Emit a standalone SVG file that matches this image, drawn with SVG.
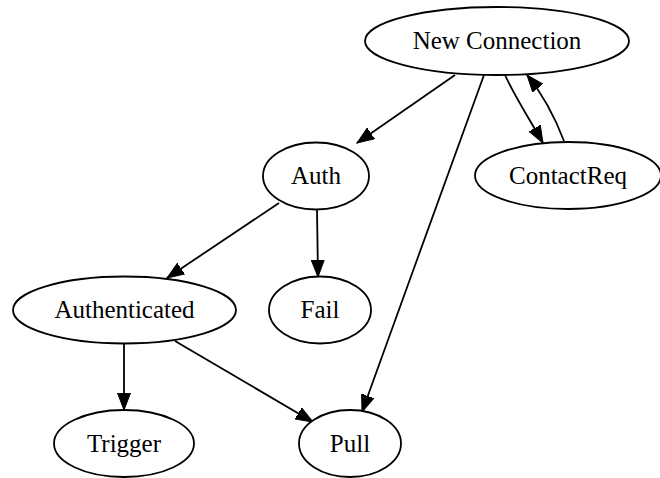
<svg xmlns="http://www.w3.org/2000/svg" width="660" height="478" viewBox="0 0 660 478">
<style>
.n ellipse{fill:#fff;stroke:#000;stroke-width:1.8}
.n text{font-family:"Liberation Serif","Times New Roman",serif;font-size:25px;text-anchor:middle;fill:#000}
.e path{fill:none;stroke:#000;stroke-width:1.8}
</style>
<defs>
<marker id="ah" markerUnits="userSpaceOnUse" markerWidth="18" markerHeight="14" refX="17" refY="6.5" orient="auto" viewBox="0 0 18 13">
<path d="M0,0 L17,6.5 L0,13 z" fill="#000" stroke="#000" stroke-width="1"/>
</marker>
</defs>
<rect width="660" height="478" fill="#fff"/>
<g id="edges" class="e">
<path d="M455,75 L357,143" marker-end="url(#ah)"/>
<path d="M484,75 C466,125 395,320 362,412" marker-end="url(#ah)"/>
<path d="M505,75 C515,97 530,120 543,143" marker-end="url(#ah)"/>
<path d="M564,141 C556,120 545,97 527,75" marker-end="url(#ah)"/>
<path d="M279,203 L167,278" marker-end="url(#ah)"/>
<path d="M317,210 L318,277" marker-end="url(#ah)"/>
<path d="M124,343 L124,410" marker-end="url(#ah)"/>
<path d="M175,341 L313,422" marker-end="url(#ah)"/>
</g>
<g id="new_connection" class="n"><ellipse cx="497" cy="41" rx="132" ry="34"/><text x="497" y="49">New Connection</text></g>
<g id="contactreq" class="n"><ellipse cx="568" cy="175.5" rx="93" ry="33.5"/><text x="568" y="184">ContactReq</text></g>
<g id="auth" class="n"><ellipse cx="316" cy="176" rx="53" ry="33.5"/><text x="316" y="184">Auth</text></g>
<g id="authenticated" class="n"><ellipse cx="124.5" cy="310" rx="111.5" ry="33.5"/><text x="124.5" y="318">Authenticated</text></g>
<g id="fail" class="n"><ellipse cx="320" cy="310" rx="51" ry="33.5"/><text x="320" y="318">Fail</text></g>
<g id="trigger" class="n"><ellipse cx="124" cy="443.5" rx="70" ry="33.5"/><text x="124" y="452">Trigger</text></g>
<g id="pull" class="n"><ellipse cx="350" cy="443.5" rx="51" ry="33.5"/><text x="350" y="452">Pull</text></g>
</svg>
